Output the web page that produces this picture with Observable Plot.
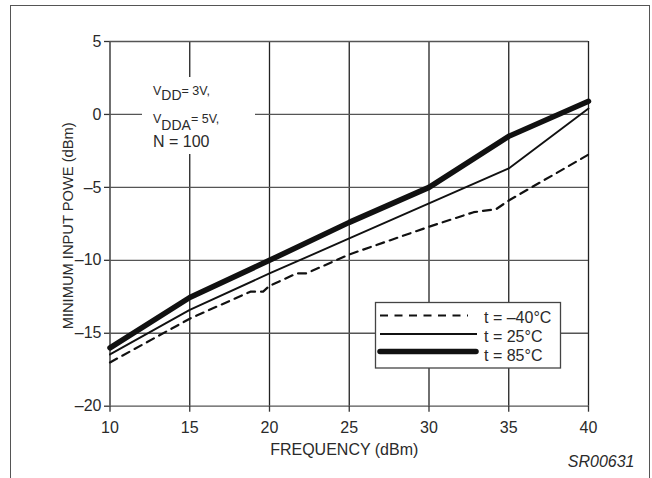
<!DOCTYPE html>
<html><head><meta charset="utf-8">
<script src="https://cdn.jsdelivr.net/npm/d3@7"></script>
<script src="https://cdn.jsdelivr.net/npm/@observablehq/plot@0.6"></script>
<style>
html,body{margin:0;padding:0;background:#fff;}
#wrap{position:relative;width:652px;height:478px;overflow:hidden;}
#border{position:absolute;left:9.5px;top:4.5px;width:640px;height:520px;border:1.3px solid #555;box-sizing:border-box;}
#chart{position:absolute;left:0;top:0;}
</style></head><body>
<div id="wrap"><div id="border"></div><div id="chart"></div></div>
<script>
// Data
const frequency = [10, 15, 20, 25, 30, 35, 40];
const power25 = [-16.45, -13.4, -10.9, -8.5, -6.1, -3.7, 0.4];
const power85 = [-16.0, -12.55, -10.0, -7.4, -5.0, -1.5, 0.9];
const frequencyM40 = [10, 15, 18.8, 19.6, 20, 21.7, 22.3, 25, 30, 32.8, 34.2, 35, 40];
const powerM40 = [-17.0, -14.0, -12.15, -12.15, -11.75, -10.9, -10.9, -9.6, -7.7, -6.7, -6.5, -5.9, -2.75];
const xTicks = [10, 15, 20, 25, 30, 35, 40];
const yTicks = [5, 0, -5, -10, -15, -20];
const seriesLabels = ["t = \u201340\u00b0C", "t = 25\u00b0C", "t = 85\u00b0C"];
const xLabel = "FREQUENCY (dBm)";
const yLabel = "MINIMUM INPUT POWE (dBm)";
const figId = "SR00631";
const noteLines = [["V", "DD", "= 3V,"], ["V", "DDA", "= 5V,"], ["N = 100"]];

const d25 = frequency.map((f, i) => ({f, p: power25[i]}));
const d85 = frequency.map((f, i) => ({f, p: power85[i]}));
const dm40 = frequencyM40.map((f, i) => ({f, p: powerM40[i]}));
const fmt = d => (d < 0 ? "\u2013" + Math.abs(d) : String(d));
const FONT = "'Liberation Sans', Arial, Helvetica, sans-serif";
const TXT = "#2a2a2a";

const chart = Plot.plot({
  width: 652,
  height: 478,
  marginLeft: 109.5,
  marginRight: 64,
  marginTop: 41,
  marginBottom: 72.3,
  style: {fontFamily: FONT, fontSize: "16px", color: TXT, background: "transparent", overflow: "visible"},
  x: {domain: [10, 40]},
  y: {domain: [-20, 5]},
  marks: [
    Plot.ruleX(xTicks, {y1: -20, y2: 5, stroke: "#222", strokeWidth: 1.3}),
    Plot.ruleY(yTicks, {x1: 10, x2: 40, stroke: "#555", strokeWidth: 1.3}),
    Plot.axisX({ticks: xTicks, tickSize: 6, tickPadding: 9.5, tickFormat: fmt, label: null, stroke: "#333", strokeWidth: 1.3, fontSize: 16}),
    Plot.axisY({ticks: yTicks, tickSize: 5.5, tickPadding: 3, tickFormat: fmt, label: null, stroke: "#333", strokeWidth: 1.3, fontSize: 16}),
    Plot.line(dm40, {x: "f", y: "p", stroke: "#111", strokeWidth: 2.2, strokeDasharray: "8,6"}),
    Plot.line(d25, {x: "f", y: "p", stroke: "#111", strokeWidth: 1.9}),
    Plot.line(d85, {x: "f", y: "p", stroke: "#111", strokeWidth: 5.5, strokeLinecap: "round"}),
    Plot.text([yLabel], {frameAnchor: "left", dx: -42, dy: 2, rotate: -90, fontSize: 14.7, fill: TXT, textAnchor: "middle"}),
    Plot.text([xLabel], {frameAnchor: "bottom", dx: -5, dy: 49, fontSize: 16, fill: TXT, textAnchor: "middle"}),
    Plot.text([figId], {frameAnchor: "bottom-right", dx: 46, dy: 61, fontSize: 16, fill: TXT, textAnchor: "end", fontStyle: "italic"})
  ]
});
document.getElementById("chart").appendChild(chart);

// Annotation and legend overlays
const svg = d3.select(chart);
const note = svg.append("g").attr("font-family", FONT).attr("fill", TXT).attr("text-anchor", "start");
note.append("rect").attr("x", 142).attr("y", 77).attr("width", 113).attr("height", 77).attr("fill", "#fff");
const rows = [{y: 95, sub: 100}, {y: 123, sub: 130}];
rows.forEach((r, i) => {
  const t = note.append("text").attr("x", 153).attr("y", r.y);
  t.append("tspan").attr("font-size", 12.5).text(noteLines[i][0]);
  t.append("tspan").attr("font-size", 14).attr("dy", r.sub - r.y).text(noteLines[i][1]);
  t.append("tspan").attr("font-size", 12.5).attr("dy", r.y - r.sub).text(noteLines[i][2]);
});
note.append("text").attr("x", 153).attr("y", 146.5).attr("font-size", 16).text(noteLines[2][0]);

const leg = svg.append("g").attr("font-family", FONT).attr("text-anchor", "start");
leg.append("rect").attr("x", 375.5).attr("y", 302.5).attr("width", 185).attr("height", 65.5)
  .attr("fill", "#fff").attr("stroke", "#444").attr("stroke-width", 1.3);
const legStyles = [
  {y: 315.5, w: 2.2, dash: "8,6.5", x2: 468, cap: "butt"},
  {y: 334, w: 1.9, dash: null, x2: 477, cap: "butt"},
  {y: 351.5, w: 5.5, dash: null, x2: 476, cap: "round"}
];
const textY = [322.5, 341.5, 360.5];
legStyles.forEach((s, i) => {
  const l = leg.append("line").attr("x1", 380).attr("x2", s.x2).attr("y1", s.y).attr("y2", s.y)
    .attr("stroke", "#111").attr("stroke-width", s.w).attr("stroke-linecap", s.cap);
  if (s.dash) l.attr("stroke-dasharray", s.dash);
  leg.append("text").attr("x", 484).attr("y", textY[i]).attr("font-size", 16).attr("fill", TXT).text(seriesLabels[i]);
});
</script>
</body></html>
